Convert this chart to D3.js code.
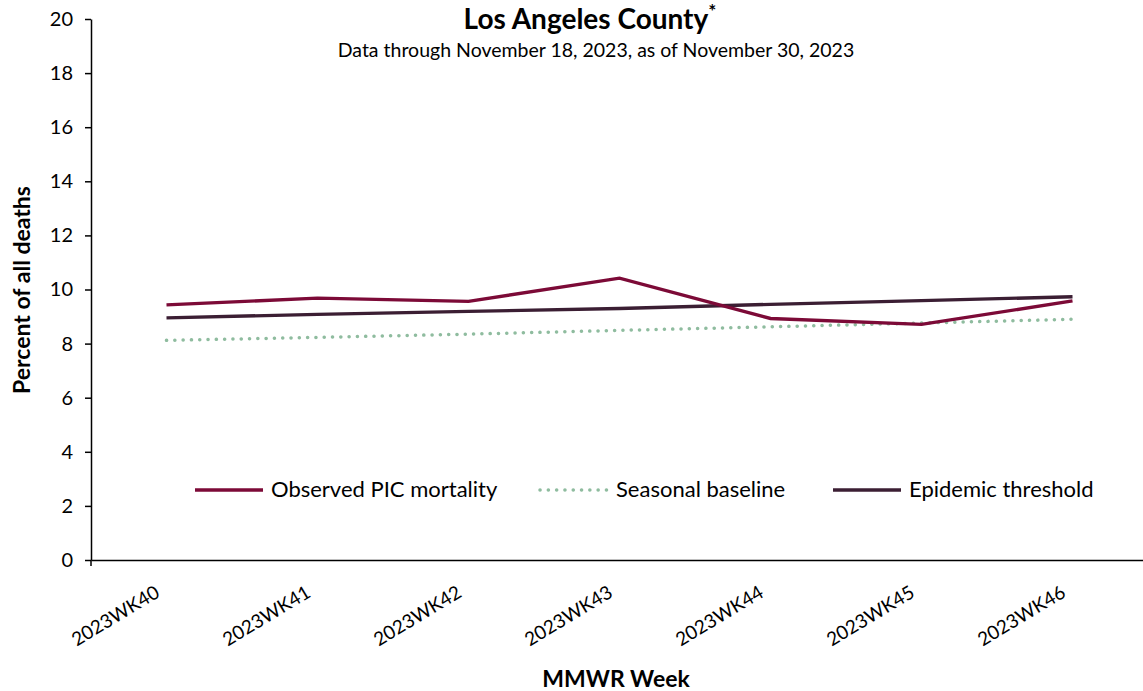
<!DOCTYPE html>
<html>
<head>
<meta charset="utf-8">
<script src="https://cdn.jsdelivr.net/npm/d3@7"></script>
<style>
  body { margin: 0; background: #fff; }
  text { font-family: Lato, "Open Sans", sans-serif; fill: #000; }
</style>
</head>
<body>
<div id="chart"></div>
<script>
// weeks and series
const weeks = ['2023WK40', '2023WK41', '2023WK42', '2023WK43', '2023WK44', '2023WK45', '2023WK46'];
const observed = [9.43, 9.68, 9.56, 10.42, 8.93, 8.71, 9.58];
const baseline = [8.12, 8.23, 8.35, 8.49, 8.62, 8.76, 8.90];
const threshold = [8.95, 9.08, 9.19, 9.30, 9.45, 9.59, 9.73];
const yTicks = [0, 2, 4, 6, 8, 10, 12, 14, 16, 18, 20];

const width = 1143, height = 691;
const plot = { left: 91, top: 19, bottom: 560, right: 1148 };

const svg = d3.select('#chart')
    .append('svg')
    .attr('width', width)
    .attr('height', height);

const x = d3.scalePoint()
    .domain(weeks)
    .range([plot.left, plot.right])
    .padding(0.5);

const y = d3.scaleLinear()
    .domain([0, 20])
    .range([plot.bottom, plot.top]);

// y axis
const yAxis = svg.append('g')
    .attr('transform', `translate(${plot.left},0)`)
    .call(d3.axisLeft(y).tickValues(yTicks).tickSize(6).tickPadding(12).tickSizeOuter(0));
yAxis.select('.domain').attr('stroke', '#000').attr('stroke-width', 1.5);
yAxis.selectAll('.tick line').attr('stroke', '#000').attr('stroke-width', 1.5);
yAxis.selectAll('.tick text').style('font-size', '20px');
// little tick below the origin
yAxis.append('line')
    .attr('x1', 0).attr('x2', 0)
    .attr('y1', plot.bottom).attr('y2', plot.bottom + 6)
    .attr('stroke', '#000').attr('stroke-width', 1.5);

// x axis
const xAxis = svg.append('g')
    .attr('transform', `translate(0,${plot.bottom})`)
    .call(d3.axisBottom(x).tickSize(0).tickSizeOuter(0).tickPadding(0));
xAxis.select('.domain').attr('stroke', '#000').attr('stroke-width', 1.5);
xAxis.selectAll('.tick text')
    .style('font-size', '19px')
    .attr('text-anchor', 'end')
    .attr('dy', 0)
    .attr('transform', 'translate(-6,36) rotate(-31)');

// lines
const line = d3.line()
    .x((d, i) => x(weeks[i]))
    .y(d => y(d));

svg.append('path')
    .datum(baseline)
    .attr('d', line)
    .attr('fill', 'none')
    .attr('stroke', '#8fbc9f')
    .attr('stroke-width', 3.5)
    .attr('stroke-linecap', 'round')
    .attr('stroke-dasharray', '0.1 8.2');

svg.append('path')
    .datum(threshold)
    .attr('d', line)
    .attr('fill', 'none')
    .attr('stroke', '#3b1e33')
    .attr('stroke-width', 3.4);

svg.append('path')
    .datum(observed)
    .attr('d', line)
    .attr('fill', 'none')
    .attr('stroke', '#7c0a37')
    .attr('stroke-width', 3.4);

// legend
const legendItems = [
    { label: 'Observed PIC mortality', color: '#7c0a37', dash: null, x: 195 },
    { label: 'Seasonal baseline', color: '#8fbc9f', dash: '0.1 8.2', x: 540 },
    { label: 'Epidemic threshold', color: '#3b1e33', dash: null, x: 833 }
];
const legend = svg.append('g');
legendItems.forEach(d => {
    const g = legend.append('g').attr('transform', `translate(${d.x},490)`);
    g.append('line')
        .attr('x1', 0).attr('x2', 68)
        .attr('stroke', d.color)
        .attr('stroke-width', 3.5)
        .attr('stroke-linecap', d.dash ? 'round' : 'butt')
        .attr('stroke-dasharray', d.dash);
    g.append('text')
        .attr('x', 76)
        .attr('y', 7)
        .style('font-size', '22px')
        .text(d.label);
});

// titles
svg.append('text')
    .attr('x', 590).attr('y', 29)
    .attr('text-anchor', 'middle')
    .style('font-size', '28px')
    .style('font-weight', 'bold')
    .text('Los Angeles County')
    .append('tspan')
    .attr('dy', -11)
    .style('font-size', '19px')
    .text('*');

svg.append('text')
    .attr('x', 596).attr('y', 57)
    .attr('text-anchor', 'middle')
    .style('font-size', '19.5px')
    .text('Data through November 18, 2023, as of November 30, 2023');

svg.append('text')
    .attr('transform', 'translate(30,290) rotate(-90)')
    .attr('text-anchor', 'middle')
    .style('font-size', '23px')
    .style('font-weight', 'bold')
    .text('Percent of all deaths');

svg.append('text')
    .attr('x', 616).attr('y', 687)
    .attr('text-anchor', 'middle')
    .style('font-size', '23px')
    .style('font-weight', 'bold')
    .text('MMWR Week');
</script>
</body>
</html>
